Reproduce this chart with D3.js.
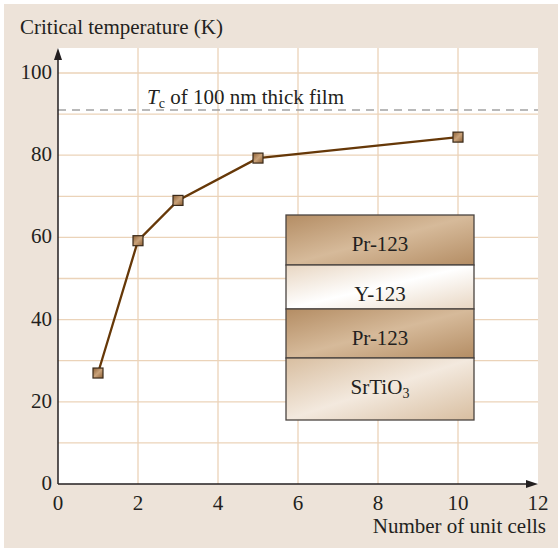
<!DOCTYPE html>
<html>
<head>
<meta charset="utf-8">
<script src="https://cdn.jsdelivr.net/npm/d3@7"></script>
<style>
  body { margin: 0; background: #fff; }
  text { font-family: "Liberation Serif", "Times New Roman", serif; fill: #231f20; }
</style>
</head>
<body>
<div id="chart"></div>
<script>
// Critical temperature vs number of unit cells

const width = 558,
    height = 548;
const margin = {left: 58, right: 20, top: 48, bottom: 64};
const fs = "21px";

// data
const cells = [1, 2, 3, 5, 10];
const tc = [27, 59.2, 69, 79.3, 84.4];
const filmTc = 91;
const xTicks = [0, 2, 4, 6, 8, 10, 12];
const yTicks = [0, 20, 40, 60, 80, 100];
const layers = ["Pr-123", "Y-123", "Pr-123", "SrTiO3"];

let svg = d3.select("#chart")
  .append("svg")
    .attr("width", width)
    .attr("height", height);

const defs = svg.append("defs");

// gradients for the layer stack and the markers
const grad = (id, stops) => {
  let g = defs.append("linearGradient").attr("id", id)
    .attr("x1", "0%").attr("y1", "0%").attr("x2", "100%").attr("y2", "100%");
  stops.forEach(s => g.append("stop").attr("offset", s[0]).attr("stop-color", s[1]));
};
grad("pr", [["0%", "#b48d64"], ["50%", "#d6ba9a"], ["100%", "#b48d64"]]);
grad("y", [["0%", "#e8d6c2"], ["50%", "#ffffff"], ["100%", "#e8d6c2"]]);
grad("sto", [["0%", "#d8bea0"], ["50%", "#f3e9de"], ["100%", "#d8bea0"]]);
grad("mk", [["0%", "#8c5f34"], ["50%", "#c9a27a"], ["100%", "#8c5f34"]]);

// beige panel
svg.append("rect")
  .attr("x", 4).attr("y", 4)
  .attr("width", width - 4).attr("height", height - 4)
  .attr("fill", "#ede3d9");

const x = d3.scaleLinear().domain([0, 12]).range([margin.left, 538]);
const y = d3.scaleLinear().domain([0, 100]).range([484, 73]);

// white plot area
svg.append("rect")
  .attr("x", x(0)).attr("y", margin.top)
  .attr("width", x(12) - x(0)).attr("height", y(0) - margin.top)
  .attr("fill", "white");

// grid
svg.append("g")
  .selectAll("line")
  .data(d3.range(10, 101, 10))
  .join("line")
    .attr("x1", x(0)).attr("x2", x(12))
    .attr("y1", d => y(d)).attr("y2", d => y(d))
    .attr("stroke", "#ebd3b9").attr("stroke-width", 1.3);
svg.append("g")
  .selectAll("line")
  .data(xTicks.slice(1, -1))
  .join("line")
    .attr("x1", d => x(d)).attr("x2", d => x(d))
    .attr("y1", margin.top).attr("y2", y(0))
    .attr("stroke", "#ebd3b9").attr("stroke-width", 1.3);

// dashed film Tc line
svg.append("line")
  .attr("x1", x(0)).attr("x2", x(12))
  .attr("y1", y(filmTc)).attr("y2", y(filmTc))
  .attr("stroke", "#a3a3a3").attr("stroke-width", 1.3)
  .attr("stroke-dasharray", "8,6");

let tcLabel = svg.append("text")
  .attr("x", 147).attr("y", y(filmTc) - 6)
  .style("font-size", fs);
tcLabel.append("tspan").style("font-style", "italic").text("T");
tcLabel.append("tspan").attr("dy", 4).style("font-size", "14px").text("c");
tcLabel.append("tspan").attr("dy", -4).text(" of 100 nm thick film");

// axes
svg.append("line")
  .attr("x1", x(0)).attr("x2", x(0))
  .attr("y1", y(0)).attr("y2", margin.top + 6)
  .attr("stroke", "#231f20").attr("stroke-width", 1.5);
svg.append("path")
  .attr("d", `M${x(0) - 4},${margin.top + 12} L${x(0)},${margin.top} L${x(0) + 4},${margin.top + 12} Z`)
  .attr("fill", "#231f20");
svg.append("line")
  .attr("x1", x(0)).attr("x2", x(12) - 6)
  .attr("y1", y(0)).attr("y2", y(0))
  .attr("stroke", "#231f20").attr("stroke-width", 1.5);
svg.append("path")
  .attr("d", `M${x(12) - 12},${y(0) - 4} L${x(12)},${y(0)} L${x(12) - 12},${y(0) + 4} Z`)
  .attr("fill", "#231f20");

// tick labels
svg.append("g")
  .selectAll("text")
  .data(yTicks)
  .join("text")
    .attr("x", x(0) - 6).attr("y", d => y(d) + 6)
    .attr("text-anchor", "end")
    .style("font-size", fs)
    .text(d => d);
svg.append("g")
  .selectAll("text")
  .data(xTicks)
  .join("text")
    .attr("x", d => x(d)).attr("y", y(0) + 26)
    .attr("text-anchor", "middle")
    .style("font-size", fs)
    .text(d => d);

// axis titles
svg.append("text")
  .attr("x", 20).attr("y", 34)
  .style("font-size", fs)
  .text("Critical temperature (K)");
svg.append("text")
  .attr("x", 546).attr("y", 533)
  .attr("text-anchor", "end")
  .style("font-size", fs)
  .text("Number of unit cells");

// layer stack inset
const stackX = 286, stackW = 188;
const layerEdges = [215, 265, 309, 358, 420];
const fills = ["url(#pr)", "url(#y)", "url(#pr)", "url(#sto)"];
let stack = svg.append("g");
stack.selectAll("rect")
  .data(layers)
  .join("rect")
    .attr("x", stackX).attr("y", (d, i) => layerEdges[i])
    .attr("width", stackW).attr("height", (d, i) => layerEdges[i + 1] - layerEdges[i])
    .attr("fill", (d, i) => fills[i])
    .attr("stroke", "#4a4440").attr("stroke-width", 1.3);
stack.selectAll("text")
  .data(layers)
  .join("text")
    .attr("x", stackX + stackW / 2)
    .attr("y", (d, i) => layerEdges[i] + 36)
    .attr("text-anchor", "middle")
    .style("font-size", fs)
    .each(function (d) {
      let t = d3.select(this);
      if (d === "SrTiO3") {
        t.append("tspan").text("SrTiO");
        t.append("tspan").attr("dy", 4).style("font-size", "14px").text("3");
      } else {
        t.text(d);
      }
    });

// data line and markers
let line = d3.line()
  .x(d => x(d[0]))
  .y(d => y(d[1]));
let pts = cells.map((c, i) => [c, tc[i]]);

svg.append("path")
  .datum(pts)
  .attr("d", line)
  .attr("fill", "none")
  .attr("stroke", "#663808")
  .attr("stroke-width", 2.3);

svg.selectAll("rect.mk")
  .data(pts)
  .join("rect")
    .attr("class", "mk")
    .attr("x", d => x(d[0]) - 5).attr("y", d => y(d[1]) - 5)
    .attr("width", 10).attr("height", 10)
    .attr("fill", "url(#mk)")
    .attr("stroke", "#3a2a1a").attr("stroke-width", 1.2);
</script>
</body>
</html>
